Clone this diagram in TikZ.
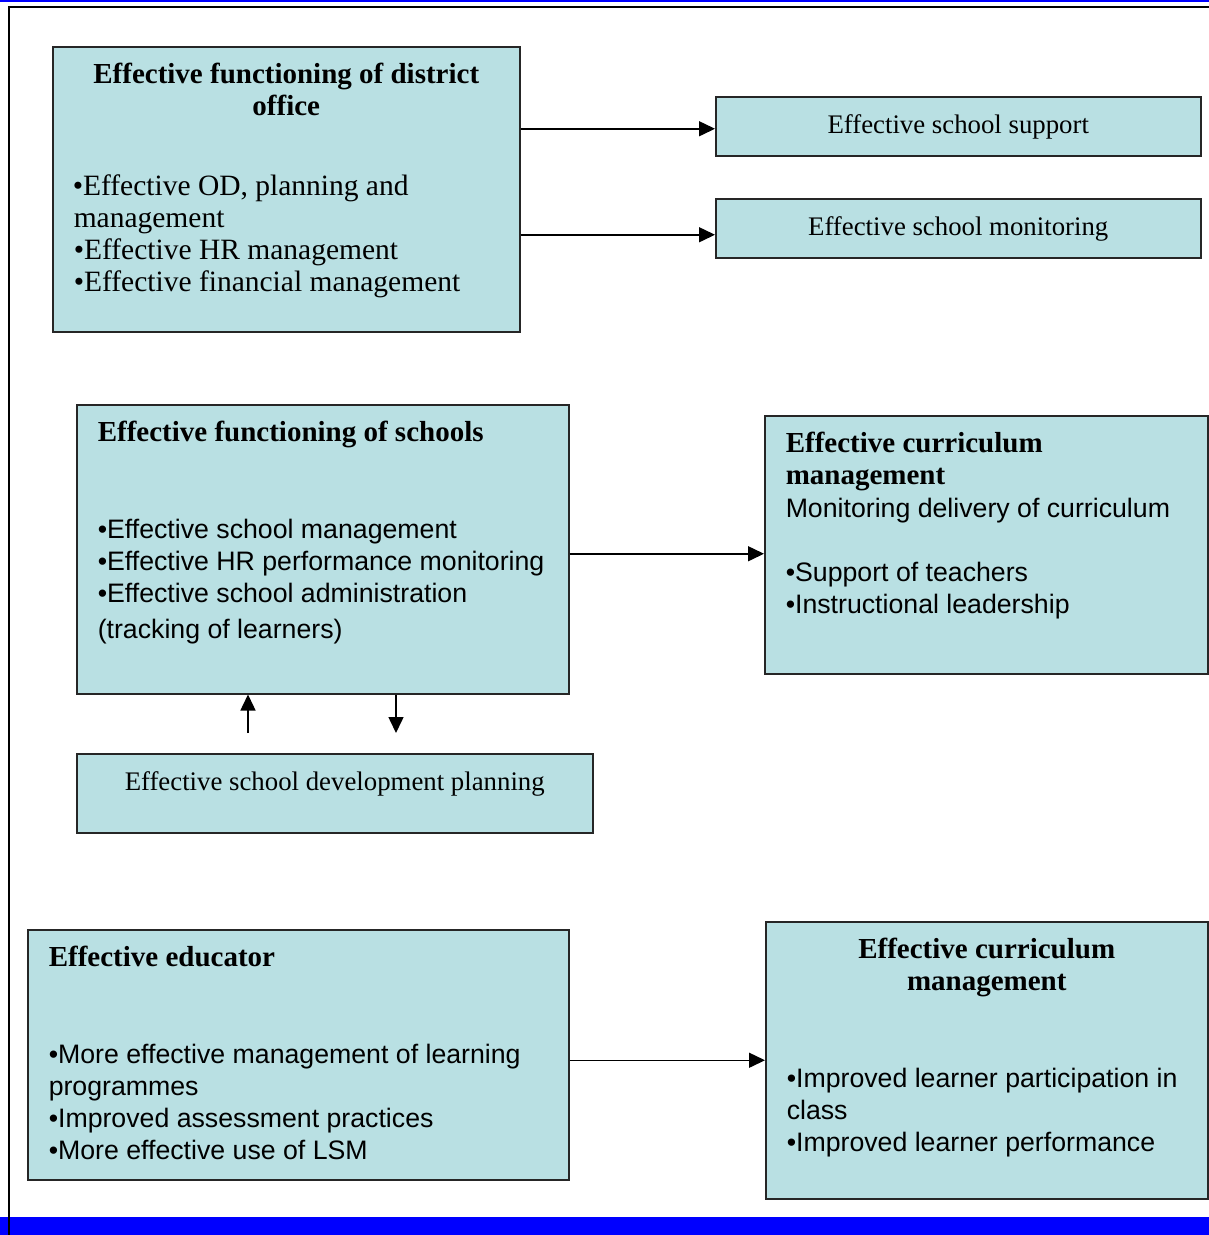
\documentclass[tikz,border=0pt]{standalone}
\usepackage{fontspec}
\setmainfont{Liberation Serif}
\setsansfont{Liberation Sans}
\usetikzlibrary{arrows.meta, positioning}
\definecolor{boxblue}{RGB}{185,224,227}
\definecolor{pageblue}{RGB}{0,0,255}
\tikzstyle{arrow} = [line width=1.5pt, -{Triangle[length=16pt, width=15pt]}]
\tikzset{
    box/.style={
        rectangle, draw=black!85, line width=1.5pt, fill=boxblue, anchor=north west, inner xsep=21pt, inner ysep=16pt
    }
}
\newcommand{\boxhead}{\rmfamily\bfseries\fontsize{29}{32}\selectfont}
\newcommand{\boxrm}{\rmfamily\mdseries\fontsize{26.8}{32}\selectfont}
\newcommand{\boxbig}{\rmfamily\mdseries\fontsize{29.5}{32}\selectfont}
\newcommand{\boxsf}{\sffamily\mdseries\fontsize{26.7}{32}\selectfont}

\begin{document}
\begin{tikzpicture}[x=1pt, y=-1pt]
    \useasboundingbox (0,0) rectangle (1209,1235);

    % Page frame
    \fill[pageblue] (0,0) rectangle (1209,2);
    \fill[pageblue] (0,1217) rectangle (1209,1235);
    \draw[line width=2pt] (8,7) -- (1209,7);
    \draw[line width=2pt] (9,6) -- (9,1235);

    % District office
    \node[box] (district) at (52,46) {\parbox[t][253pt][t]{425pt}{\centering\boxhead Effective functioning of district\\ office\par
        \vspace{48pt}\raggedright\hspace*{-1pt}\boxbig
        •Effective OD, planning and\\ management\\ •Effective HR management\\ •Effective financial management}};
    \node[box, inner ysep=18pt] (support) at (715,96) {\parbox[t][23pt][t]{443pt}{\centering\boxrm Effective school support}};
    \node[box, inner ysep=18pt] (monitor) at (715,198) {\parbox[t][23pt][t]{443pt}{\centering\boxrm Effective school monitoring}};

    % Schools
    \node[box] (schools) at (76,404) {\parbox[t][257pt][t]{450pt}{\raggedright\boxhead Effective functioning of schools\par
        \vspace{65pt}\boxsf
        •Effective school management\\ •Effective HR performance monitoring\\ •Effective school administration\\[4pt] (tracking of learners)}};
    \node[box] (curric) at (764,415) {\parbox[t][226pt][t]{401pt}{\raggedright\boxhead Effective curriculum\\ management\par
        \vspace{1pt}\boxsf Monitoring delivery of curriculum\par
        \vspace{32pt}•Support of teachers\\ •Instructional leadership}};
    \node[box, inner ysep=18pt] (sdp) at (76,753) {\parbox[t][43pt][t]{474pt}{\centering\boxrm Effective school development planning}};

    % Educator
    \node[box] (educator) at (27,929) {\parbox[t][218pt][t]{499pt}{\raggedright\boxhead Effective educator\par
        \vspace{65pt}\boxsf
        •More effective management of learning\\ programmes\\ •Improved assessment practices\\ •More effective use of LSM}};
    \node[box] (learner) at (765,921) {\parbox[t][245pt][t]{400pt}{\centering\boxhead Effective curriculum\\ management\par
        \vspace{65pt}\raggedright\boxsf
        •Improved learner participation in\\ class\\ •Improved learner performance}};

    % Relationships
    \draw[arrow] ([yshift=-2.5pt]support.west -| district.east) -- ([yshift=-2.5pt]support.west);
    \draw[arrow] ([yshift=-6.5pt]monitor.west -| district.east) -- ([yshift=-6.5pt]monitor.west);
    \draw[arrow] ([yshift=-9pt]curric.west -| schools.east) -- ([yshift=-9pt]curric.west);
    \draw[arrow] (learner.west -| educator.east) -- (learner.west);
    \coordinate (sdpup) at (248,733);
    \coordinate (sdpdown) at (396,733);
    \draw[arrow] (sdpup) -- (sdpup |- schools.south);
    \draw[arrow] (sdpdown |- schools.south) -- (sdpdown);

\end{tikzpicture}
\end{document}
